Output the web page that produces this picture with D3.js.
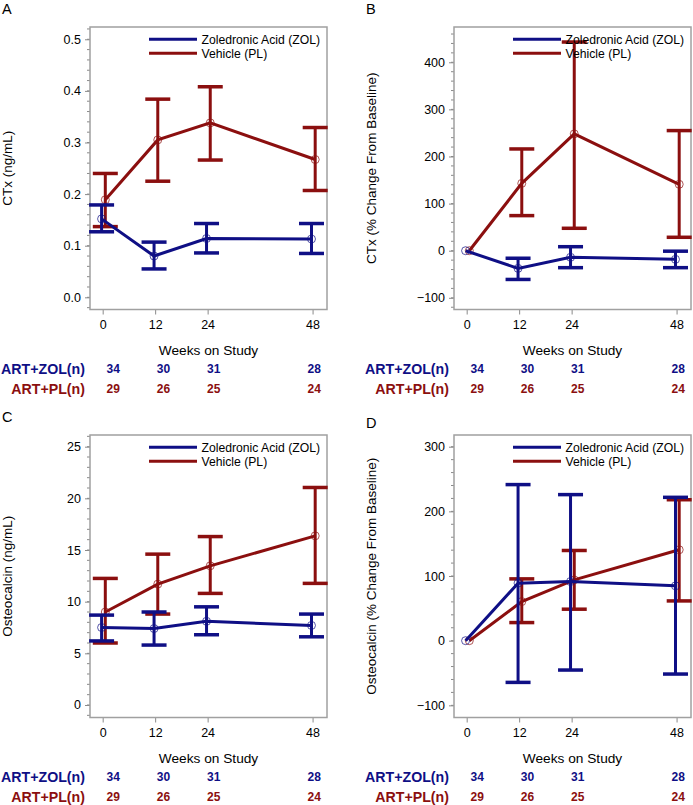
<!DOCTYPE html>
<html>
<head>
<meta charset="utf-8">
<script src="https://cdn.jsdelivr.net/npm/d3@7"></script>
<style>
  body { margin: 0; background: #fff; }
  svg { display: block; font-family: "Liberation Sans", Arial, sans-serif; }
</style>
</head>
<body>
<div id="chart"></div>
<script>
const weeks = [0, 12, 24, 48];
const seriesNames = ["Zoledronic Acid (ZOL)", "Vehicle (PL)"];
const tableLabels = ["ART+ZOL(n)", "ART+PL(n)"];
const nZol = [34, 30, 31, 28];
const nPl = [29, 26, 25, 24];

// panel A: CTx (ng/mL)
const ctxZol = [0.152, 0.080, 0.114, 0.113];
const ctxZolLo = [0.127, 0.055, 0.086, 0.085];
const ctxZolHi = [0.179, 0.107, 0.143, 0.143];
const ctxPl = [0.189, 0.305, 0.338, 0.267];
const ctxPlLo = [0.137, 0.225, 0.266, 0.207];
const ctxPlHi = [0.240, 0.384, 0.408, 0.329];

// panel B: CTx % change
const ctxPctZol = [0, -37.5, -14, -18.3];
const ctxPctZolLo = [null, -61, -36, -36];
const ctxPctZolHi = [null, -16, 8.5, -1];
const ctxPctPl = [0, 143, 248, 141];
const ctxPctPlLo = [null, 74.5, 47.6, 28.5];
const ctxPctPlHi = [null, 216, 443, 255];

// panel C: osteocalcin (ng/mL)
const ocZol = [7.5, 7.4, 8.1, 7.7];
const ocZolLo = [6.2, 5.8, 6.8, 6.6];
const ocZolHi = [8.7, 9.0, 9.5, 8.8];
const ocPl = [9.0, 11.7, 13.47, 16.37];
const ocPlLo = [6.0, 8.8, 10.8, 11.77];
const ocPlHi = [12.25, 14.6, 16.3, 21.05];

// panel D: osteocalcin % change
const ocPctZol = [0, 89, 91.5, 84.8];
const ocPctZolLo = [null, -64.5, -45.4, -51.6];
const ocPctZolHi = [null, 241.4, 225.9, 221.7];
const ocPctPl = [0, 60.5, 94, 140.6];
const ocPctPlLo = [null, 28, 48.7, 61.5];
const ocPctPlHi = [null, 95.6, 139.5, 218];

const blue = "#0f0f85";
const red = "#8b0f0f";

let svg = d3.select("#chart")
    .append("svg")
    .attr("width", 693)
    .attr("height", 805);

function drawPanel(p) {
    let g = svg.append("g").attr("transform", "translate(" + p.dx + "," + p.dy + ")");

    let left = 90, right = 327, top = 27, bottom = 309.5;

    let x = d3.scaleLinear().domain([-2.9, 51.3]).range([left, right]);
    let y = d3.scaleLinear().domain(p.yDomain).range([bottom, top]);
    // the n table is laid out a little wider than the plot axis
    let tableX = d3.scaleLinear().domain([0, 48]).range([113.3, 314.3]);

    g.append("text")
        .text(p.letter)
        .attr("x", 2)
        .attr("y", p.letterY)
        .attr("font-size", 14.5)
        .attr("fill", "#000");

    // minor ticks
    let minors = d3.range(Math.ceil(p.yDomain[0] / p.minor) * p.minor, p.yDomain[1], p.minor);
    g.selectAll("line.minor")
        .data(minors)
        .enter()
        .append("line")
        .attr("class", "minor")
        .attr("x1", left - 3)
        .attr("x2", left)
        .attr("y1", (d) => y(d))
        .attr("y2", (d) => y(d))
        .attr("stroke", "#8a8a8a")
        .attr("stroke-width", 1);

    let yAxis = d3.axisLeft(y)
        .tickValues(p.yTicks)
        .tickFormat(d3.format(p.fmt))
        .tickSize(5)
        .tickPadding(4);

    let ya = g.append("g")
        .attr("transform", "translate(" + left + ",0)")
        .call(yAxis);
    ya.select(".domain").remove();
    ya.selectAll("line").attr("stroke", "#8a8a8a");
    ya.selectAll("text").attr("font-size", 12.5).attr("fill", "#000")
        .attr("font-family", "Liberation Sans, Arial, sans-serif");

    let xAxis = d3.axisBottom(x)
        .tickValues(weeks)
        .tickSize(5)
        .tickPadding(6);

    let xa = g.append("g")
        .attr("transform", "translate(0," + bottom + ")")
        .call(xAxis);
    xa.select(".domain").remove();
    xa.selectAll("line").attr("stroke", "#8a8a8a");
    xa.selectAll("text").attr("font-size", 12.5).attr("fill", "#000")
        .attr("font-family", "Liberation Sans, Arial, sans-serif");

    // frame
    g.append("rect")
        .attr("x", left)
        .attr("y", top)
        .attr("width", right - left)
        .attr("height", bottom - top)
        .attr("fill", "none")
        .attr("stroke", "#a0a0a0")
        .attr("stroke-width", 1.5);

    g.append("text")
        .text(p.yTitle)
        .attr("transform", "translate(12," + ((top + bottom) / 2) + ") rotate(-90)")
        .attr("text-anchor", "middle")
        .attr("font-size", 13.5)
        .attr("fill", "#000");

    g.append("text")
        .text("Weeks on Study")
        .attr("x", (left + right) / 2)
        .attr("y", 355)
        .attr("text-anchor", "middle")
        .attr("font-size", 13.7)
        .attr("fill", "#000");

    // series: red first, blue on top
    let series = [
        {mean: p.pl, lo: p.plLo, hi: p.plHi, color: red, shift: 0.6},
        {mean: p.zol, lo: p.zolLo, hi: p.zolHi, color: blue, shift: -0.25}
    ];

    series.forEach(function (s) {
        let pts = weeks.map((w, i) => ({w: w + s.shift, m: s.mean[i], lo: s.lo[i], hi: s.hi[i]}));
        let bars = pts.filter((d) => d.lo != null);

        g.selectAll(null)
            .data(bars)
            .enter()
            .append("line")
            .attr("x1", (d) => x(d.w))
            .attr("x2", (d) => x(d.w))
            .attr("y1", (d) => y(d.lo))
            .attr("y2", (d) => y(d.hi))
            .attr("stroke", s.color)
            .attr("stroke-width", 3);

        ["lo", "hi"].forEach(function (k) {
            g.selectAll(null)
                .data(bars)
                .enter()
                .append("line")
                .attr("x1", (d) => x(d.w) - 12.5)
                .attr("x2", (d) => x(d.w) + 12.5)
                .attr("y1", (d) => y(d[k]))
                .attr("y2", (d) => y(d[k]))
                .attr("stroke", s.color)
                .attr("stroke-width", 3.5);
        });

        g.append("path")
            .datum(pts)
            .attr("fill", "none")
            .attr("stroke", s.color)
            .attr("stroke-width", 3)
            .attr("d", d3.line().x((d) => x(d.w)).y((d) => y(d.m)));

        g.selectAll(null)
            .data(pts)
            .enter()
            .append("circle")
            .attr("cx", (d) => x(d.w))
            .attr("cy", (d) => y(d.m))
            .attr("r", 4)
            .attr("fill", "none")
            .attr("stroke", s.color)
            .attr("stroke-opacity", 0.7)
            .attr("stroke-width", 1);
    });

    // legend
    let legend = g.append("g").attr("class", "legend");
    [blue, red].forEach(function (c, i) {
        legend.append("line")
            .attr("x1", 149)
            .attr("x2", 197)
            .attr("y1", 39.3 + i * 14)
            .attr("y2", 39.3 + i * 14)
            .attr("stroke", c)
            .attr("stroke-width", 3);
        legend.append("text")
            .text(seriesNames[i])
            .attr("x", 201.5)
            .attr("y", 39.3 + i * 14)
            .attr("dy", "0.35em")
            .attr("font-size", 12.2)
            .attr("fill", "#000");
    });

    // at-risk table
    [nZol, nPl].forEach(function (arr, i) {
        let rowY = 369 + i * 20;
        let c = i == 0 ? blue : red;
        g.append("text")
            .text(tableLabels[i])
            .attr("x", 85)
            .attr("y", rowY)
            .attr("dy", "0.35em")
            .attr("text-anchor", "end")
            .attr("font-size", 14.2)
            .attr("font-weight", "bold")
            .attr("fill", c);
        g.selectAll(null)
            .data(arr)
            .enter()
            .append("text")
            .text((d) => d)
            .attr("x", (d, j) => tableX(weeks[j]))
            .attr("y", rowY)
            .attr("dy", "0.35em")
            .attr("text-anchor", "middle")
            .attr("font-size", 12)
            .attr("font-weight", "bold")
            .attr("fill", c);
    });
}

drawPanel({
    dx: 0, dy: 0, letter: "A", letterY: 13.5,
    yDomain: [-0.0236, 0.5238], yTicks: [0, 0.1, 0.2, 0.3, 0.4, 0.5], minor: 0.02, fmt: ".1f",
    yTitle: "CTx (ng/mL)",
    zol: ctxZol, zolLo: ctxZolLo, zolHi: ctxZolHi,
    pl: ctxPl, plLo: ctxPlLo, plHi: ctxPlHi
});

drawPanel({
    dx: 364, dy: 0, letter: "B", letterY: 13.5,
    yDomain: [-124.8, 474.9], yTicks: [-100, 0, 100, 200, 300, 400], minor: 20, fmt: "d",
    yTitle: "CTx (% Change From Baseline)",
    zol: ctxPctZol, zolLo: ctxPctZolLo, zolHi: ctxPctZolHi,
    pl: ctxPctPl, plLo: ctxPctPlLo, plHi: ctxPctPlHi
});

drawPanel({
    dx: 0, dy: 408, letter: "C", letterY: 13.5,
    yDomain: [-1.21, 26.13], yTicks: [0, 5, 10, 15, 20, 25], minor: 1, fmt: "d",
    yTitle: "Osteocalcin (ng/mL)",
    zol: ocZol, zolLo: ocZolLo, zolHi: ocZolHi,
    pl: ocPl, plLo: ocPlLo, plHi: ocPlHi
});

drawPanel({
    dx: 364, dy: 408, letter: "D", letterY: 20,
    yDomain: [-118.8, 318.1], yTicks: [-100, 0, 100, 200, 300], minor: 20, fmt: "d",
    yTitle: "Osteocalcin (% Change From Baseline)",
    zol: ocPctZol, zolLo: ocPctZolLo, zolHi: ocPctZolHi,
    pl: ocPctPl, plLo: ocPctPlLo, plHi: ocPctPlHi
});
</script>
</body>
</html>
